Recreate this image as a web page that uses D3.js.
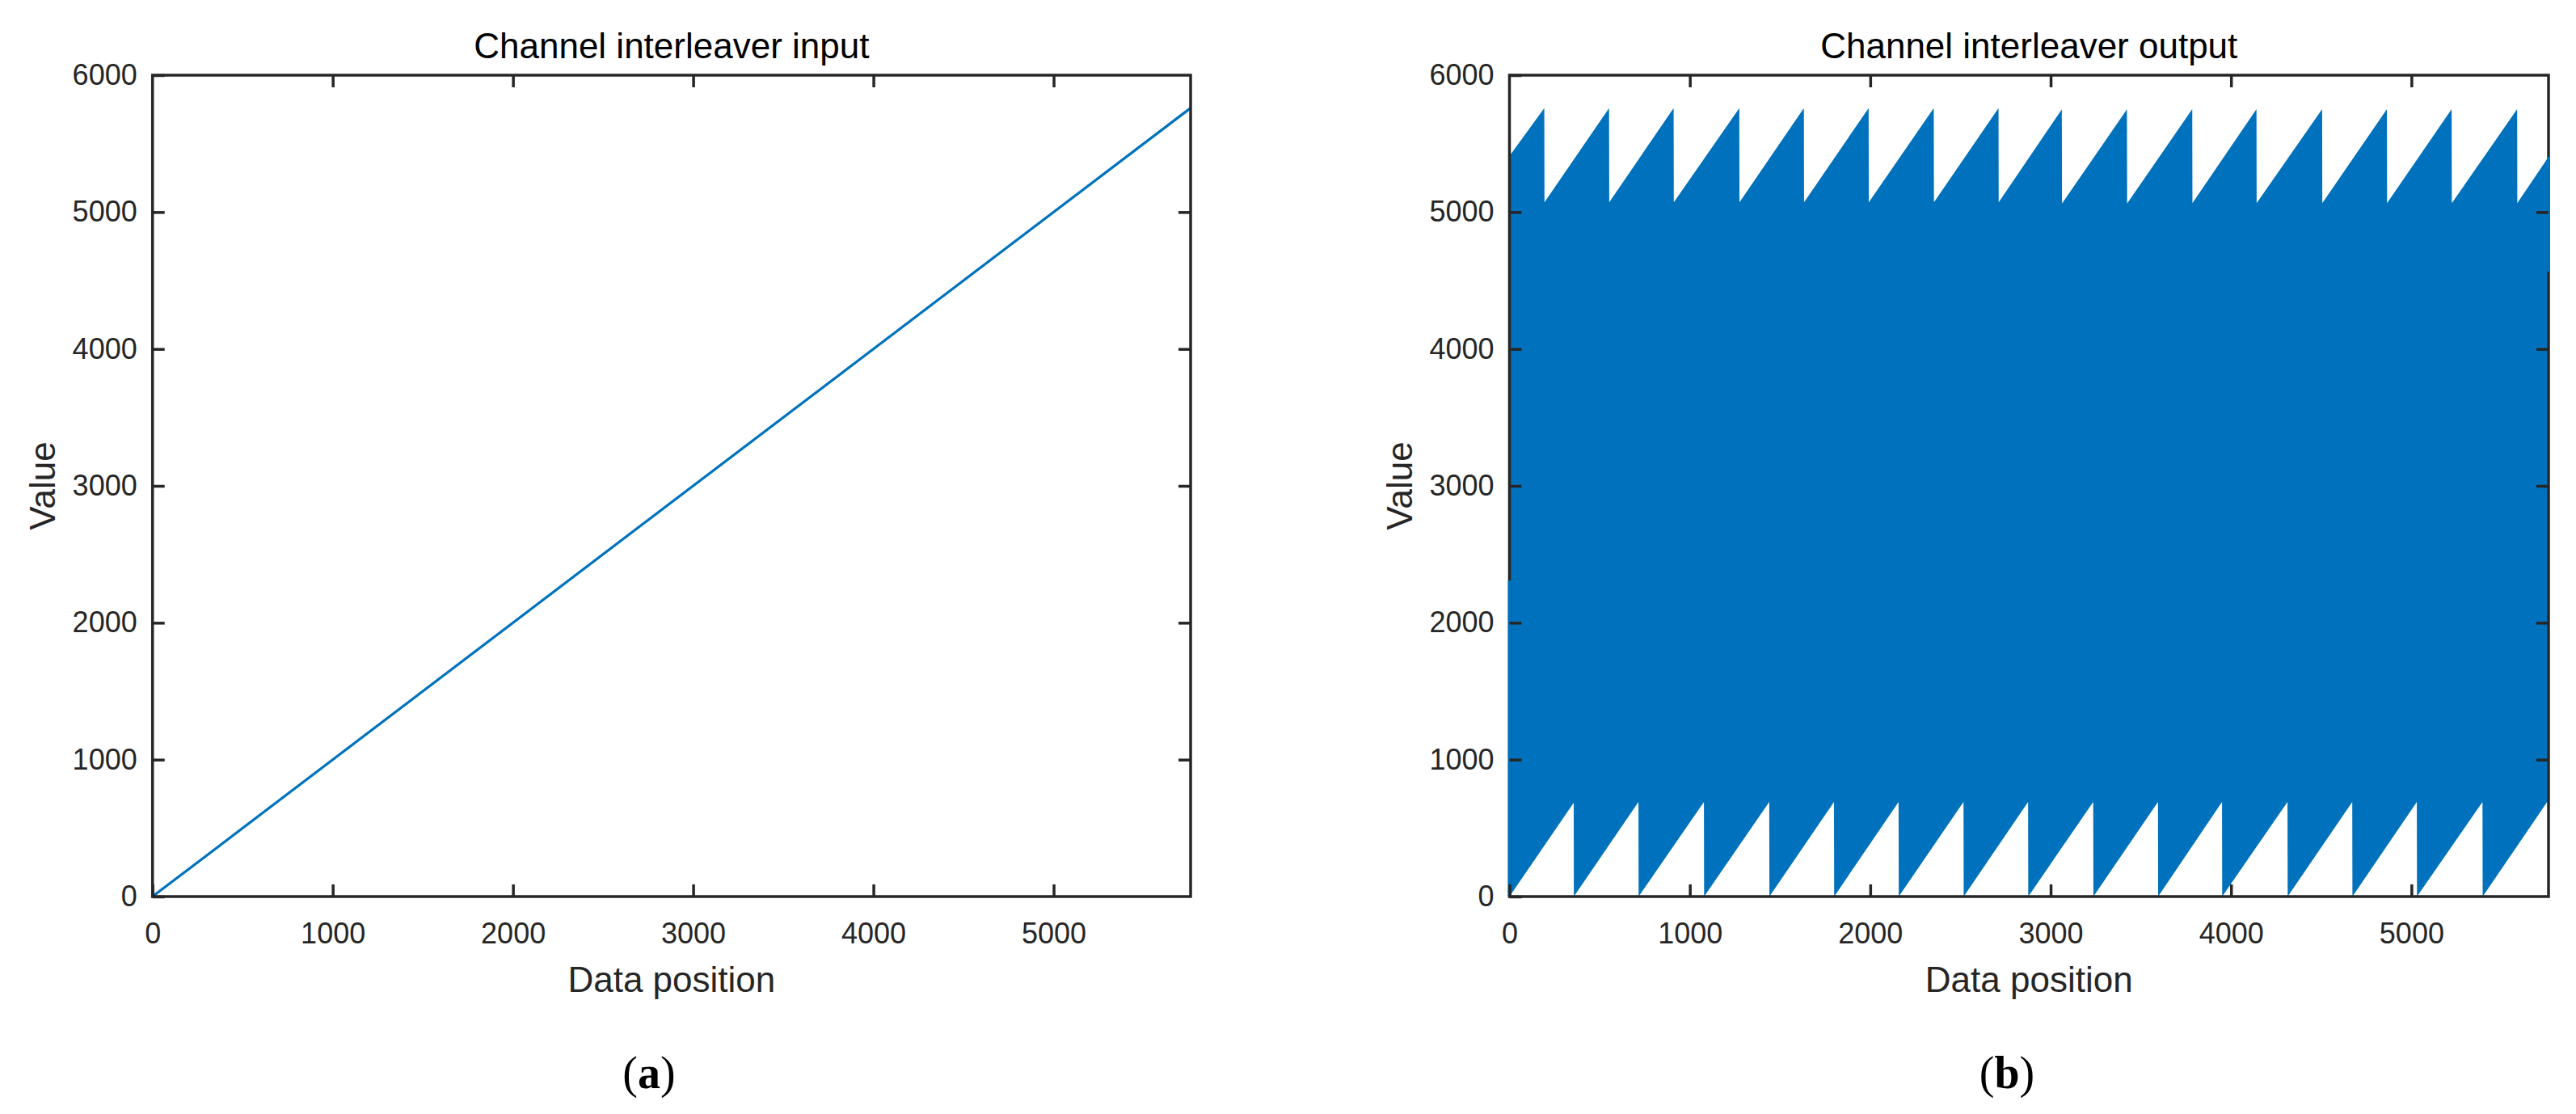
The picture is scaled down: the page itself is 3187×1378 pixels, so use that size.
<!DOCTYPE html>
<html>
<head>
<meta charset="utf-8">
<script src="https://cdn.jsdelivr.net/npm/d3@7"></script>
<style>
  body { margin: 0; background: #fff; }
  svg { display: block; }
</style>
</head>
<body>
<div id="chart"></div>
<script>
// (a) interleaver input: straight ramp, value == position
const inputPos = [1, 5760];
const inputVal = [1, 5760];

// (b) interleaver output, dense enough to read as a filled band.
// upper edge: climbs to a peak, then falls back at each drop position
const topDrops = [193, 552, 910, 1274, 1632, 1991, 2352, 2711, 3062, 3423, 3785, 4141, 4505, 4864, 5223, 5586];
const topPeaks = [5760, 5760, 5760, 5760, 5760, 5760, 5760, 5760, 5750, 5750, 5752, 5752, 5752, 5752, 5752, 5752];
const topFloors = [5072, 5072, 5072, 5072, 5072, 5072, 5072, 5072, 5063, 5063, 5065, 5065, 5065, 5065, 5065, 5065];
const topEnds = [5410, 5404];
// lower edge: falls to zero at each drop position, then climbs again
const botDrops = [357, 716, 1079, 1441, 1800, 2158, 2518, 2876, 3237, 3596, 3951, 4314, 4673, 5031, 5395];
const botPeaks = [685, 691, 691, 691, 691, 691, 691, 691, 691, 691, 691, 691, 691, 691, 691];
const botEnds = [0, 705];
// first / last samples lying on the box edges
const edgeLeft = [0, 2309];
const edgeRight = [4565, 5404];

const xTicks = [0, 1000, 2000, 3000, 4000, 5000];
const yTicks = [0, 1000, 2000, 3000, 4000, 5000, 6000];
const xMax = 5760;
const yMax = 6000;

const titles = ['Channel interleaver input', 'Channel interleaver output'];
const tags = ['a', 'b'];

const W = 3187, H = 1378;
const plotTop = 93, plotBottom = 1109;
const panels = [
  { left: 188.7, right: 1473, tagX: 803 },
  { left: 1867.5, right: 3153, tagX: 2483 }
];
const blue = '#0072BD';
const axisColor = '#262626';
const sans = "'Liberation Sans', Arial, Helvetica, sans-serif";
const fmt = d3.format('d');

const svg = d3.select('#chart').append('svg')
  .attr('width', W)
  .attr('height', H)
  .style('background', '#fff');

const drawPanel = (p, i) => {
  const x = d3.scaleLinear().domain([0, xMax]).range([p.left, p.right]);
  const y = d3.scaleLinear().domain([0, yMax]).range([plotBottom, plotTop]);
  const g = svg.append('g');
  const line = d3.line().x(d => x(d[0])).y(d => y(d[1]));

  if (i === 0) {
    g.append('path')
      .datum(inputPos.map((v, k) => [v, inputVal[k]]))
      .attr('d', line)
      .attr('fill', 'none')
      .attr('stroke', blue)
      .attr('stroke-width', 3.2);
  } else {
    // build the outline of the band from the read edges
    const topLine = [[0, topEnds[0]]];
    topDrops.forEach((d, k) => { topLine.push([d, topPeaks[k]], [d + 1, topFloors[k]]); });
    topLine.push([xMax, topEnds[1]]);
    const botLine = [[0, botEnds[0]]];
    botDrops.forEach((d, k) => { botLine.push([d - 1, botPeaks[k]], [d, 0]); });
    botLine.push([xMax, botEnds[1]]);
    const band = topLine.concat(botLine.slice().reverse());

    g.append('path')
      .datum(band)
      .attr('d', line(band) + 'Z')
      .attr('fill', blue)
      .attr('stroke', 'none');
  }

  // box
  g.append('rect')
    .attr('x', p.left)
    .attr('y', plotTop)
    .attr('width', p.right - p.left)
    .attr('height', plotBottom - plotTop)
    .attr('fill', 'none')
    .attr('stroke', axisColor)
    .attr('stroke-width', 3.5);

  if (i === 1) {
    // samples drawn over the box edge
    g.append('line')
      .attr('x1', x(0)).attr('x2', x(0))
      .attr('y1', y(edgeLeft[0])).attr('y2', y(edgeLeft[1]))
      .attr('stroke', blue).attr('stroke-width', 4);
    g.append('line')
      .attr('x1', x(xMax)).attr('x2', x(xMax))
      .attr('y1', y(edgeRight[0])).attr('y2', y(edgeRight[1]))
      .attr('stroke', blue).attr('stroke-width', 4);
  }

  const styleAxis = a => {
    a.select('.domain').remove();
    a.selectAll('.tick line').attr('stroke', axisColor).attr('stroke-width', 3.5);
    a.selectAll('.tick text')
      .attr('fill', axisColor)
      .attr('font-family', sans)
      .attr('font-size', 36);
  };

  // bottom / left axes with labels, ticks pointing inwards
  g.append('g')
    .attr('transform', 'translate(0,' + plotBottom + ')')
    .call(d3.axisBottom(x).tickValues(xTicks).tickFormat(fmt).tickSize(-15).tickPadding(32))
    .call(styleAxis);
  g.append('g')
    .attr('transform', 'translate(' + p.left + ',0)')
    .call(d3.axisLeft(y).tickValues(yTicks).tickFormat(fmt).tickSize(-15).tickPadding(19))
    .call(styleAxis);
  // top / right ticks only
  g.append('g')
    .attr('transform', 'translate(0,' + plotTop + ')')
    .call(d3.axisTop(x).tickValues(xTicks.slice(1)).tickSize(-15).tickFormat(() => ''))
    .call(styleAxis);
  g.append('g')
    .attr('transform', 'translate(' + p.right + ',0)')
    .call(d3.axisRight(y).tickValues(yTicks.slice(1, -1)).tickSize(-15).tickFormat(() => ''))
    .call(styleAxis);

  const cx = (p.left + p.right) / 2;
  g.append('text')
    .attr('x', cx)
    .attr('y', 72)
    .attr('text-anchor', 'middle')
    .attr('font-family', sans)
    .attr('font-size', 44)
    .attr('fill', '#000')
    .text(titles[i]);

  g.append('text')
    .attr('x', cx)
    .attr('y', 1227)
    .attr('text-anchor', 'middle')
    .attr('font-family', sans)
    .attr('font-size', 44)
    .attr('fill', axisColor)
    .text('Data position');

  g.append('text')
    .attr('transform', 'translate(' + (p.left - 121) + ',' + ((plotTop + plotBottom) / 2) + ') rotate(-90)')
    .attr('text-anchor', 'middle')
    .attr('font-family', sans)
    .attr('font-size', 44)
    .attr('fill', axisColor)
    .text('Value');

  // sub-figure tag, e.g. (a)
  const tag = g.append('text')
    .attr('x', p.tagX)
    .attr('y', 1346)
    .attr('text-anchor', 'middle')
    .attr('font-family', "'Liberation Serif', 'Times New Roman', serif")
    .attr('font-size', 56)
    .attr('fill', '#000');
  tag.append('tspan').text('(');
  tag.append('tspan').attr('font-weight', 'bold').text(tags[i]);
  tag.append('tspan').text(')');
};

panels.forEach(drawPanel);
</script>
</body>
</html>
